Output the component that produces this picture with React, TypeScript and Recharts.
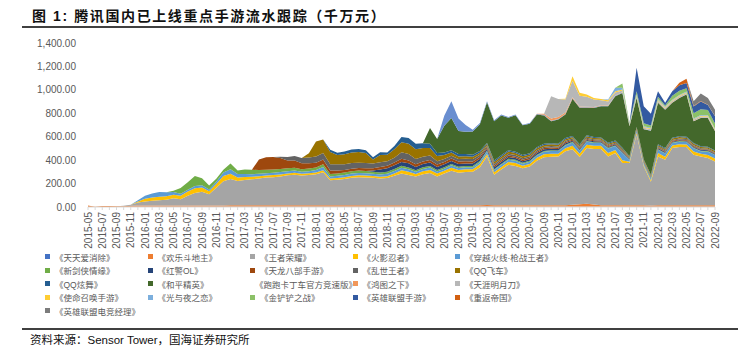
import React from "react";
import { AreaChart, Area, XAxis, YAxis, Legend } from "recharts";

const months = [
  "2015-05", "2015-06", "2015-07", "2015-08", "2015-09", "2015-10", "2015-11", "2015-12",
  "2016-01", "2016-02", "2016-03", "2016-04", "2016-05", "2016-06", "2016-07", "2016-08", "2016-09", "2016-10", "2016-11", "2016-12",
  "2017-01", "2017-02", "2017-03", "2017-04", "2017-05", "2017-06", "2017-07", "2017-08", "2017-09", "2017-10", "2017-11", "2017-12",
  "2018-01", "2018-02", "2018-03", "2018-04", "2018-05", "2018-06", "2018-07", "2018-08", "2018-09", "2018-10", "2018-11", "2018-12",
  "2019-01", "2019-02", "2019-03", "2019-04", "2019-05", "2019-06", "2019-07", "2019-08", "2019-09", "2019-10", "2019-11", "2019-12",
  "2020-01", "2020-02", "2020-03", "2020-04", "2020-05", "2020-06", "2020-07", "2020-08", "2020-09", "2020-10", "2020-11", "2020-12",
  "2021-01", "2021-02", "2021-03", "2021-04", "2021-05", "2021-06", "2021-07", "2021-08", "2021-09", "2021-10", "2021-11", "2021-12",
  "2022-01", "2022-02", "2022-03", "2022-04", "2022-05", "2022-06", "2022-07", "2022-08", "2022-09",
];

const yTicks = [0, 200, 400, 600, 800, 1000, 1200, 1400];

// monthly revenue, 千万元
const tiantian = [
  0, 0, 0, 0, 0, 1, 2, 3, 3, 3,
  3, 3, 3, 3, 3, 3, 3, 3, 3, 3,
  3, 3, 3, 3, 3, 3, 3, 3, 3, 3,
  3, 3, 3, 3, 3, 3, 3, 3, 3, 3,
  3, 3, 3, 3, 3, 3, 3, 3, 3, 3,
  3, 3, 3, 3, 3, 3, 4, 3, 3, 3,
  3, 3, 3, 3, 3, 3, 3, 3, 3, 3,
  3, 3, 3, 3, 3, 3, 3, 3, 3, 2,
  3, 3, 3, 3, 3, 3, 3, 3, 3,
];
const huanle = [
  12, 2, 8, 9, 6, 6, 8, 9, 9, 9,
  10, 10, 10, 10, 10, 10, 10, 10, 10, 10,
  11, 11, 12, 12, 12, 12, 12, 12, 13, 13,
  13, 13, 13, 13, 13, 13, 13, 12, 12, 12,
  12, 12, 12, 12, 12, 12, 11, 11, 11, 11,
  11, 11, 11, 11, 11, 11, 13, 11, 11, 11,
  11, 11, 11, 11, 11, 11, 11, 13, 16, 20,
  25, 18, 13, 12, 12, 12, 12, 12, 12, 11,
  12, 12, 12, 12, 12, 12, 12, 12, 11,
];
const wangzhe = [
  0, 0, 0, 0, 0, 3, 10, 26, 34, 41,
  44, 48, 61, 54, 84, 106, 118, 96, 151, 206,
  224, 208, 216, 221, 228, 236, 240, 246, 254, 260,
  252, 257, 263, 280, 212, 217, 223, 235, 240, 237,
  235, 229, 232, 252, 271, 258, 246, 266, 276, 246,
  271, 296, 278, 284, 286, 326, 416, 261, 306, 346,
  336, 316, 331, 381, 411, 416, 417, 460, 475, 403,
  475, 475, 480, 417, 446, 360, 360, 603, 332, 203,
  417, 389, 489, 497, 497, 432, 417, 403, 375,
];
const huoying = [
  0, 0, 0, 0, 0, 0, 0, 8, 25, 28,
  30, 30, 30, 28, 35, 40, 35, 25, 32, 45,
  45, 30, 25, 22, 20, 18, 18, 17, 16, 16,
  15, 15, 16, 18, 15, 15, 15, 15, 16, 16,
  15, 15, 16, 20, 28, 28, 22, 25, 25, 25,
  24, 26, 24, 24, 23, 24, 20, 22, 22, 25,
  25, 22, 22, 25, 25, 25, 24, 26, 28, 28,
  28, 26, 26, 28, 25, 25, 12, 15, 12, 12,
  28, 26, 22, 24, 22, 26, 22, 26, 26,
];
const chuanyue = [
  0, 0, 0, 0, 0, 0, 0, 12, 25, 35,
  40, 35, 25, 18, 15, 20, 20, 15, 20, 30,
  40, 30, 25, 22, 20, 20, 20, 20, 20, 20,
  18, 18, 20, 28, 18, 18, 20, 20, 20, 20,
  18, 18, 20, 20, 22, 22, 18, 20, 22, 18,
  18, 20, 17, 17, 17, 18, 22, 18, 18, 18,
  20, 18, 20, 20, 22, 22, 22, 24, 28, 28,
  28, 25, 24, 40, 35, 60, 15, 18, 15, 15,
  28, 26, 20, 22, 20, 28, 22, 28, 28,
];
const xinjianxia = [
  0, 0, 0, 0, 0, 0, 0, 0, 0, 0,
  0, 0, 10, 50, 65, 85, 60, 35, 25, 25,
  48, 30, 40, 38, 32, 30, 28, 26, 25, 24,
  22, 22, 22, 24, 20, 20, 20, 20, 20, 20,
  18, 18, 17, 17, 17, 15, 14, 14, 14, 13,
  12, 12, 11, 11, 11, 11, 8, 8, 8, 8,
  8, 7, 7, 7, 7, 7, 6, 6, 6, 5,
  5, 5, 5, 5, 5, 5, 4, 4, 4, 4,
  5, 5, 5, 5, 5, 5, 5, 5, 4,
];
const hongjing = [
  0, 0, 0, 0, 0, 0, 0, 0, 0, 0,
  0, 0, 0, 0, 0, 0, 0, 0, 0, 0,
  0, 0, 0, 0, 0, 0, 0, 0, 0, 0,
  0, 0, 0, 0, 0, 0, 0, 0, 0, 0,
  10, 25, 30, 32, 31, 35, 28, 28, 28, 26,
  25, 25, 24, 22, 20, 18, 15, 16, 16, 16,
  15, 14, 14, 14, 13, 13, 12, 12, 10, 9,
  9, 9, 8, 8, 8, 7, 5, 5, 5, 5,
  8, 8, 7, 7, 7, 7, 7, 7, 6,
];
const tianlong = [
  0, 0, 0, 0, 0, 0, 0, 0, 0, 0,
  0, 0, 0, 0, 0, 0, 0, 0, 0, 0,
  0, 0, 0, 0, 90, 105, 105, 95, 65, 60,
  50, 45, 40, 40, 30, 25, 22, 22, 22, 22,
  20, 22, 22, 24, 28, 25, 22, 22, 22, 20,
  20, 20, 20, 19, 18, 17, 12, 13, 13, 13,
  12, 12, 12, 11, 11, 11, 10, 10, 9, 8,
  8, 8, 7, 7, 7, 7, 5, 5, 5, 5,
  7, 7, 7, 7, 7, 7, 6, 6, 6,
];
const luanshi = [
  0, 0, 0, 0, 0, 0, 0, 0, 0, 0,
  0, 0, 0, 0, 0, 0, 0, 0, 0, 0,
  0, 0, 0, 0, 0, 0, 0, 10, 30, 40,
  45, 50, 55, 55, 55, 55, 50, 48, 45, 45,
  40, 40, 38, 40, 55, 55, 45, 40, 38, 28,
  25, 24, 22, 21, 20, 18, 12, 15, 15, 15,
  14, 14, 13, 13, 12, 12, 12, 11, 10, 10,
  10, 9, 9, 9, 8, 8, 5, 5, 5, 5,
  8, 8, 8, 8, 7, 7, 7, 7, 7,
];
const qqfeiche = [
  0, 0, 0, 0, 0, 0, 0, 0, 0, 0,
  0, 0, 0, 0, 0, 0, 0, 0, 0, 0,
  0, 0, 0, 0, 0, 0, 0, 0, 0, 0,
  0, 35, 128, 115, 103, 78, 85, 90, 92, 85,
  35, 62, 55, 72, 85, 86, 85, 75, 65, 45,
  35, 28, 22, 22, 20, 18, 15, 18, 18, 18,
  17, 16, 16, 16, 15, 15, 14, 14, 13, 13,
  13, 12, 12, 12, 11, 11, 8, 8, 8, 8,
  12, 12, 12, 12, 12, 12, 11, 11, 11,
];
const qqxuanwu = [
  0, 0, 0, 0, 0, 0, 0, 0, 0, 0,
  0, 0, 0, 0, 0, 0, 0, 0, 0, 0,
  0, 0, 0, 0, 0, 0, 0, 0, 0, 0,
  0, 0, 0, 0, 20, 20, 23, 25, 26, 25,
  19, 23, 21, 28, 45, 50, 45, 40, 35, 25,
  22, 20, 20, 18, 16, 15, 10, 12, 12, 12,
  11, 11, 10, 10, 10, 10, 9, 9, 8, 8,
  8, 8, 7, 7, 7, 7, 5, 5, 5, 5,
  7, 7, 7, 7, 7, 7, 6, 6, 6,
];
const heping = [
  0, 0, 0, 0, 0, 0, 0, 0, 0, 0,
  0, 0, 0, 0, 0, 0, 0, 0, 0, 0,
  0, 0, 0, 0, 0, 0, 0, 0, 0, 0,
  0, 0, 0, 0, 0, 0, 0, 0, 0, 0,
  0, 0, 0, 0, 0, 0, 0, 0, 135, 120,
  228, 274, 197, 191, 200, 228, 348, 335, 340, 277,
  311, 253, 252, 278, 242, 186, 206, 201, 318, 312,
  235, 248, 266, 312, 379, 469, 255, 248, 257, 375,
  354, 328, 297, 327, 361, 185, 242, 246, 163,
];
const paopao = [
  0, 0, 0, 0, 0, 0, 0, 0, 0, 0,
  0, 0, 0, 0, 0, 0, 0, 0, 0, 0,
  0, 0, 0, 0, 0, 0, 0, 0, 0, 0,
  0, 0, 0, 0, 0, 0, 0, 0, 0, 0,
  0, 0, 0, 0, 0, 0, 0, 0, 0, 0,
  86, 143, 106, 57, 15, 10, 8, 8, 7, 7,
  6, 6, 6, 5, 5, 5, 5, 5, 5, 4,
  4, 4, 4, 3, 3, 3, 2, 2, 2, 2,
  2, 2, 2, 2, 2, 2, 2, 2, 2,
];
const hongtu = [
  0, 0, 0, 0, 0, 0, 0, 0, 0, 0,
  0, 0, 0, 0, 0, 0, 0, 0, 0, 0,
  0, 0, 0, 0, 0, 0, 0, 0, 0, 0,
  0, 0, 0, 0, 0, 0, 0, 0, 0, 0,
  0, 0, 0, 0, 0, 0, 0, 0, 0, 0,
  0, 0, 0, 0, 0, 0, 0, 0, 0, 0,
  0, 0, 0, 3, 10, 20, 18, 12, 8, 6,
  5, 4, 4, 3, 3, 3, 2, 2, 2, 2,
  2, 2, 2, 2, 2, 2, 2, 2, 2,
];
const tianya = [
  0, 0, 0, 0, 0, 0, 0, 0, 0, 0,
  0, 0, 0, 0, 0, 0, 0, 0, 0, 0,
  0, 0, 0, 0, 0, 0, 0, 0, 0, 0,
  0, 0, 0, 0, 0, 0, 0, 0, 0, 0,
  0, 0, 0, 0, 0, 0, 0, 0, 0, 0,
  0, 0, 0, 0, 0, 0, 0, 0, 0, 0,
  0, 0, 0, 0, 0, 190, 154, 111, 140, 93,
  85, 63, 43, 34, 25, 14, 6, 12, 10, 10,
  12, 10, 10, 10, 9, 9, 9, 8, 8,
];
const shiming = [
  0, 0, 0, 0, 0, 0, 0, 0, 0, 0,
  0, 0, 0, 0, 0, 0, 0, 0, 0, 0,
  0, 0, 0, 0, 0, 0, 0, 0, 0, 0,
  0, 0, 0, 0, 0, 0, 0, 0, 0, 0,
  0, 0, 0, 0, 0, 0, 0, 0, 0, 0,
  0, 0, 0, 0, 0, 0, 0, 0, 0, 0,
  0, 0, 0, 0, 0, 0, 0, 8, 40, 25,
  20, 14, 12, 12, 12, 10, 5, 8, 6, 6,
  8, 6, 6, 6, 6, 6, 6, 6, 5,
];
const guangyuye = [
  0, 0, 0, 0, 0, 0, 0, 0, 0, 0,
  0, 0, 0, 0, 0, 0, 0, 0, 0, 0,
  0, 0, 0, 0, 0, 0, 0, 0, 0, 0,
  0, 0, 0, 0, 0, 0, 0, 0, 0, 0,
  0, 0, 0, 0, 0, 0, 0, 0, 0, 0,
  0, 0, 0, 0, 0, 0, 0, 0, 0, 0,
  0, 0, 0, 0, 0, 0, 0, 0, 0, 0,
  0, 0, 0, 5, 28, 15, 5, 8, 6, 6,
  8, 6, 6, 6, 6, 6, 6, 6, 5,
];
const jinchanchan = [
  0, 0, 0, 0, 0, 0, 0, 0, 0, 0,
  0, 0, 0, 0, 0, 0, 0, 0, 0, 0,
  0, 0, 0, 0, 0, 0, 0, 0, 0, 0,
  0, 0, 0, 0, 0, 0, 0, 0, 0, 0,
  0, 0, 0, 0, 0, 0, 0, 0, 0, 0,
  0, 0, 0, 0, 0, 0, 0, 0, 0, 0,
  0, 0, 0, 0, 0, 0, 0, 0, 0, 0,
  0, 0, 0, 0, 0, 35, 8, 25, 25, 20,
  20, 10, 35, 35, 28, 45, 50, 45, 45,
];
const lolMobile = [
  0, 0, 0, 0, 0, 0, 0, 0, 0, 0,
  0, 0, 0, 0, 0, 0, 0, 0, 0, 0,
  0, 0, 0, 0, 0, 0, 0, 0, 0, 0,
  0, 0, 0, 0, 0, 0, 0, 0, 0, 0,
  0, 0, 0, 0, 0, 0, 0, 0, 0, 0,
  0, 0, 0, 0, 0, 0, 0, 0, 0, 0,
  0, 0, 0, 0, 0, 0, 0, 0, 0, 0,
  0, 0, 0, 0, 0, 0, 0, 201, 146, 100,
  48, 22, 39, 48, 46, 56, 66, 41, 61,
];
const chongfan = [
  0, 0, 0, 0, 0, 0, 0, 0, 0, 0,
  0, 0, 0, 0, 0, 0, 0, 0, 0, 0,
  0, 0, 0, 0, 0, 0, 0, 0, 0, 0,
  0, 0, 0, 0, 0, 0, 0, 0, 0, 0,
  0, 0, 0, 0, 0, 0, 0, 0, 0, 0,
  0, 0, 0, 0, 0, 0, 0, 0, 0, 0,
  0, 0, 0, 0, 0, 0, 0, 0, 0, 0,
  0, 0, 0, 0, 0, 0, 0, 0, 0, 0,
  0, 0, 0, 20, 35, 6, 3, 3, 2,
];
const jingli = [
  0, 0, 0, 0, 0, 0, 0, 0, 0, 0,
  0, 0, 0, 0, 0, 0, 0, 0, 0, 0,
  0, 0, 0, 0, 0, 0, 0, 0, 0, 0,
  0, 0, 0, 0, 0, 0, 0, 0, 0, 0,
  0, 0, 0, 0, 0, 0, 0, 0, 0, 0,
  0, 0, 0, 0, 0, 0, 0, 0, 0, 0,
  0, 0, 0, 0, 0, 0, 0, 0, 0, 0,
  0, 0, 0, 0, 0, 0, 0, 0, 0, 0,
  0, 0, 0, 0, 0, 40, 65, 58, 55,
];

// stacking order = legend order (first one at the bottom)
const series = [
  { key: "s1", name: "《天天爱消除》", color: "#4472C4", values: tiantian },
  { key: "s2", name: "《欢乐斗地主》", color: "#ED7D31", values: huanle },
  { key: "s3", name: "《王者荣耀》", color: "#A5A5A5", values: wangzhe },
  { key: "s4", name: "《火影忍者》", color: "#FFC000", values: huoying },
  { key: "s5", name: "《穿越火线·枪战王者》", color: "#5B9BD5", values: chuanyue },
  { key: "s6", name: "《新剑侠情缘》", color: "#70AD47", values: xinjianxia },
  { key: "s7", name: "《红警OL》", color: "#264478", values: hongjing },
  { key: "s8", name: "《天龙八部手游》", color: "#9E480E", values: tianlong },
  { key: "s9", name: "《乱世王者》", color: "#636363", values: luanshi },
  { key: "s10", name: "《QQ飞车》", color: "#997300", values: qqfeiche },
  { key: "s11", name: "《QQ炫舞》", color: "#255E91", values: qqxuanwu },
  { key: "s12", name: "《和平精英》", color: "#43682B", values: heping },
  { key: "s13", name: "《跑跑卡丁车官方竞速版》", color: "#698ED0", values: paopao },
  { key: "s14", name: "《鸿图之下》", color: "#F1975A", values: hongtu },
  { key: "s15", name: "《天涯明月刀》", color: "#B7B7B7", values: tianya },
  { key: "s16", name: "《使命召唤手游》", color: "#FFCD33", values: shiming },
  { key: "s17", name: "《光与夜之恋》", color: "#7CAFDD", values: guangyuye },
  { key: "s18", name: "《金铲铲之战》", color: "#8CC168", values: jinchanchan },
  { key: "s19", name: "《英雄联盟手游》", color: "#335AA1", values: lolMobile },
  { key: "s20", name: "《重返帝国》", color: "#D26012", values: chongfan },
  { key: "s21", name: "《英雄联盟电竞经理》", color: "#7C7C7C", values: jingli },
];

const chartData = months.map((month, i) => {
  const row: Record<string, any> = { month };
  series.forEach((s) => {
    row[s.key] = s.values[i];
  });
  return row;
});

const latin = '"Liberation Sans", Arial, sans-serif';
const cjk = '"Liberation Sans", "Noto Sans CJK SC", sans-serif';

const fmt = (v: number) =>
  v.toLocaleString("en-US", { minimumFractionDigits: 2, maximumFractionDigits: 2 });

function MonthTick(props: any) {
  const { x, y, payload, index } = props;
  if (index % 2 !== 0) return null;
  return (
    <text
      x={x}
      y={y}
      transform={`rotate(-90, ${x}, ${y})`}
      textAnchor="end"
      dominantBaseline="central"
      fill="#595959"
      fontSize={10}
      fontFamily={latin}
    >
      {payload.value}
    </text>
  );
}

function LegendGrid() {
  return (
    <div
      style={{
        display: "grid",
        gridTemplateColumns: "repeat(5, 102.5px)",
        gridAutoRows: "13.5px",
        fontFamily: cjk,
        fontSize: "8.5px",
        color: "#595959",
      }}
    >
      {series.map((s) => (
        <div key={s.key} style={{ display: "flex", alignItems: "center", whiteSpace: "nowrap" }}>
          <span
            style={{
              display: "inline-block",
              width: "5px",
              height: "5px",
              background: s.color,
              marginRight: "5px",
            }}
          />
          {s.name}
        </div>
      ))}
    </div>
  );
}

export default function App() {
  return (
    <div
      style={{
        position: "absolute",
        left: 0,
        top: 0,
        width: "750px",
        height: "353px",
        background: "#fff",
        overflow: "hidden",
      }}
    >
      <div
        style={{
          position: "absolute",
          left: "32px",
          top: "5px",
          fontFamily: cjk,
          fontWeight: 700,
          fontSize: "14px",
          letterSpacing: "1.6px",
          color: "#111",
          whiteSpace: "nowrap",
        }}
      >
        图 1: 腾讯国内已上线重点手游流水跟踪（千万元）
      </div>
      <div
        style={{
          position: "absolute",
          left: "22px",
          top: "26px",
          width: "716px",
          height: "2px",
          background: "#404040",
        }}
      />

      <div style={{ position: "absolute", left: 0, top: 0 }}>
        <AreaChart
          width={750}
          height={353}
          data={chartData}
          margin={{ top: 43, right: 35, bottom: 106, left: 8 }}
        >
          <XAxis
            dataKey="month"
            interval={0}
            height={40}
            tickSize={3}
            tickLine={{ stroke: "#D9D9D9" }}
            axisLine={{ stroke: "#D9D9D9" }}
            tick={<MonthTick />}
          />
          <YAxis
            width={80}
            domain={[0, 1400]}
            ticks={yTicks}
            axisLine={false}
            tickLine={false}
            tickSize={6}
            tickMargin={6}
            tickFormatter={fmt}
            tick={{ fill: "#595959", fontSize: 10, fontFamily: latin }}
          />
          {series.map((s) => (
            <Area
              key={s.key}
              type="linear"
              dataKey={s.key}
              name={s.name}
              stackId="all"
              stroke="none"
              fill={s.color}
              fillOpacity={1}
              isAnimationActive={false}
            />
          ))}
          <Legend
            layout="vertical"
            align="center"
            verticalAlign="middle"
            wrapperStyle={{ left: 45, top: 250, width: 520, height: 70 }}
            content={() => <LegendGrid />}
          />
        </AreaChart>
      </div>

      <div
        style={{
          position: "absolute",
          left: "22px",
          top: "328px",
          width: "716px",
          height: "2px",
          background: "#404040",
        }}
      />
      <div
        style={{
          position: "absolute",
          left: "30px",
          top: "331px",
          fontFamily: cjk,
          fontSize: "11.5px",
          color: "#111",
          whiteSpace: "nowrap",
        }}
      >
        资料来源：Sensor Tower，国海证券研究所
      </div>
    </div>
  );
}
